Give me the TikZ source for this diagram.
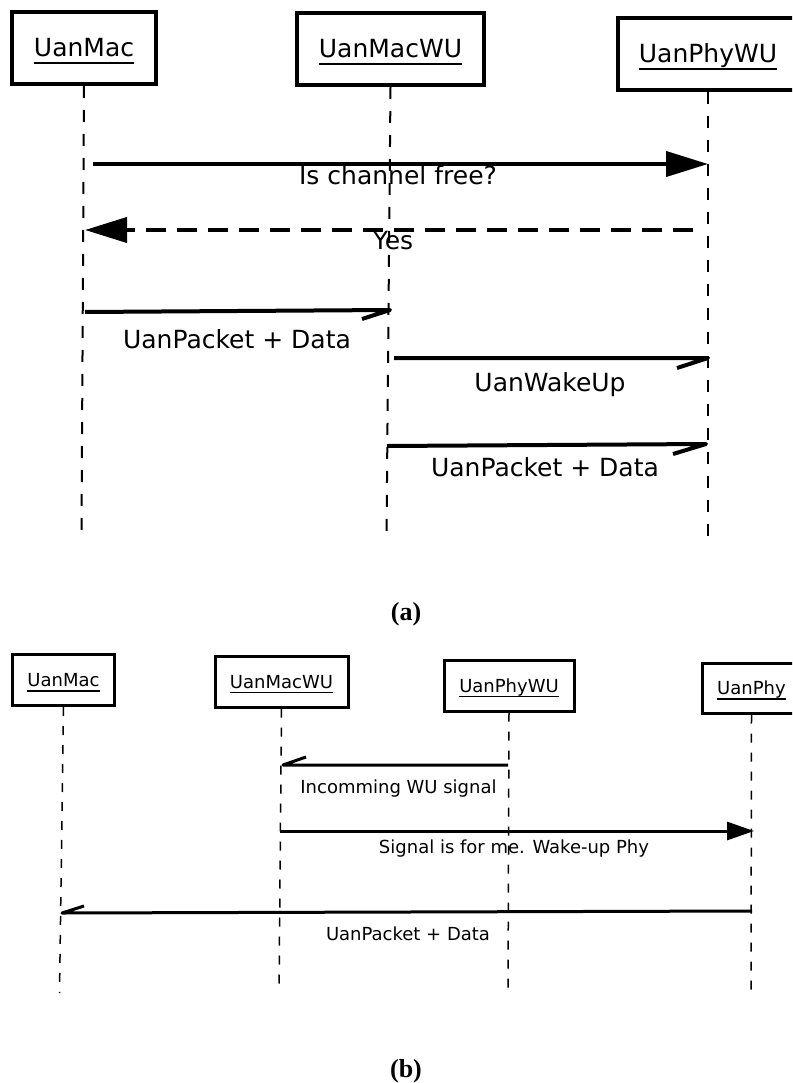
\documentclass[tikz,border=0pt]{standalone}
\usepackage{fontspec}
\setmainfont{DejaVu Sans}
\newfontfamily\capfont{Liberation Serif}
\usetikzlibrary{arrows.meta}
\begin{document}
\begin{tikzpicture}[x=1pt,y=-1pt,
  actA/.style={draw, line width=4pt, inner sep=0pt, minimum height=72pt},
  actB/.style={draw, line width=3pt, inner sep=0pt, minimum height=51pt},
  lblA/.style={font=\fontsize{25}{30}\selectfont, inner sep=0pt, anchor=base},
  lblB/.style={font=\fontsize{18}{22}\selectfont, inner sep=0pt, anchor=base},
  ulA/.style={line width=2pt},
  ulB/.style={line width=1.5pt},
  lifeA/.style={line width=2pt, dash pattern=on 12pt off 12pt},
  lifeB/.style={line width=1.5pt, dash pattern=on 9pt off 10pt},
  msgA/.style={line width=4pt, line join=round},
  msgB/.style={line width=3pt, line join=round},
  headA/.style={-{Triangle[length=42pt,width=25pt]}},
  headB/.style={-{Triangle[length=27pt,width=18pt]}},
  caption/.style={font=\capfont\bfseries\fontsize{26}{30}\selectfont, inner sep=0pt, anchor=base},
]
\clip (0,0) rectangle (792,1083);

% ---------------- (a) ----------------
% participants
\node[actA, minimum width=144pt] (aMac)   at (84,48)    {};
\node[actA, minimum width=187pt] (aMacWU) at (390.5,49) {};
\node[actA, minimum width=180pt] (aPhyWU) at (708,54)   {};
\node[lblA] (aMacT)   at (84,57)    {UanMac};
\node[lblA] (aMacWUT) at (390.5,58) {UanMacWU};
\node[lblA] (aPhyWUT) at (708,63)   {UanPhyWU};
\foreach \t in {aMacT,aMacWUT,aPhyWUT}
  \draw[ulA] ([yshift=-6pt]\t.base west) -- ([yshift=-6pt]\t.base east);

% lifelines
\coordinate (aMacEnd)   at (81.5,535);
\coordinate (aMacWUEnd) at (386.5,536);
\coordinate (aPhyWUEnd) at (708,543);
\draw[lifeA] (aMac.south)   -- (aMacEnd);
\draw[lifeA] (aMacWU.south) -- (aMacWUEnd);
\draw[lifeA] (aPhyWU.south) -- (aPhyWUEnd);

% messages
\coordinate (a1s) at (93,164);   \coordinate (a1e) at (708,164);
\coordinate (a2s) at (693,230);  \coordinate (a2e) at (85,230);
\coordinate (a3s) at (85,312);   \coordinate (a3e) at (390,310);
\coordinate (a4s) at (394,358);  \coordinate (a4e) at (708,358);
\coordinate (a5s) at (387,446);  \coordinate (a5e) at (706,444);
\draw[msgA, headA] (a1s) -- (a1e);
\draw[msgA, headA, dash pattern=on 20pt off 11pt] (a2s) -- (a2e);
\draw[msgA] (a3s) -- (a3e) -- ++(-28,9);
\draw[msgA] (a4s) -- (a4e) -- ++(-31,10);
\draw[msgA] (a5s) -- (a5e) -- ++(-33,10);
\node[lblA] (a1l) at (398,185) {Is channel free?};
\node[lblA] (a2l) at (393,249) {Yes};
\node[lblA] (a3l) at (237,348) {UanPacket + Data};
\node[lblA] (a4l) at (550,391) {UanWakeUp};
\node[lblA] (a5l) at (545,476) {UanPacket + Data};

\node[caption] (capA) at (406,620) {(a)};

% ---------------- (b) ----------------
% participants
\node[actB, minimum width=102pt] (bMac)   at (63.5,680)   {};
\node[actB, minimum width=133pt] (bMacWU) at (281.5,681.5) {};
\node[actB, minimum width=130pt] (bPhyWU) at (509,685.5)   {};
\node[actB, minimum width=98pt, minimum height=50pt] (bPhy) at (751.5,688) {};
\node[lblB] (bMacT)   at (63.5,686.5)  {UanMac};
\node[lblB] (bMacWUT) at (281.5,688)   {UanMacWU};
\node[lblB] (bPhyWUT) at (509,692)     {UanPhyWU};
\node[lblB] (bPhyT)   at (751.5,694.5) {UanPhy};
\foreach \t in {bMacT,bMacWUT,bPhyWUT,bPhyT}
  \draw[ulB] ([yshift=-4.5pt]\t.base west) -- ([yshift=-4.5pt]\t.base east);

% lifelines
\coordinate (bMacEnd)   at (59.5,993);
\coordinate (bMacWUEnd) at (279,993);
\coordinate (bPhyWUEnd) at (508,997);
\coordinate (bPhyEnd)   at (751,997);
\draw[lifeB] (bMac.south)   -- (bMacEnd);
\draw[lifeB] (bMacWU.south) -- (bMacWUEnd);
\draw[lifeB] (bPhyWU.south) -- (bPhyWUEnd);
\draw[lifeB] (bPhy.south)   -- (bPhyEnd);

% messages
\coordinate (b1s) at (508,765);  \coordinate (b1e) at (283,765);
\coordinate (b2s) at (280,831);  \coordinate (b2e) at (754,831);
\coordinate (b3s) at (752,911);  \coordinate (b3e) at (62,913);
\draw[msgB] (b1s) -- (b1e) -- ++(23,-8);
\draw[msgB, headB] (b2s) -- (b2e);
\draw[msgB] (b3s) -- (b3e) -- ++(22,-7);
\node[lblB] (b1l) at (398.5,793) {Incomming WU signal};
\node[lblB] (b2l) at (514,853)   {Signal is for me. Wake-up Phy};
\node[lblB] (b3l) at (408,940)   {UanPacket + Data};

\node[caption] (capB) at (406,1077) {(b)};
\end{tikzpicture}
\end{document}
